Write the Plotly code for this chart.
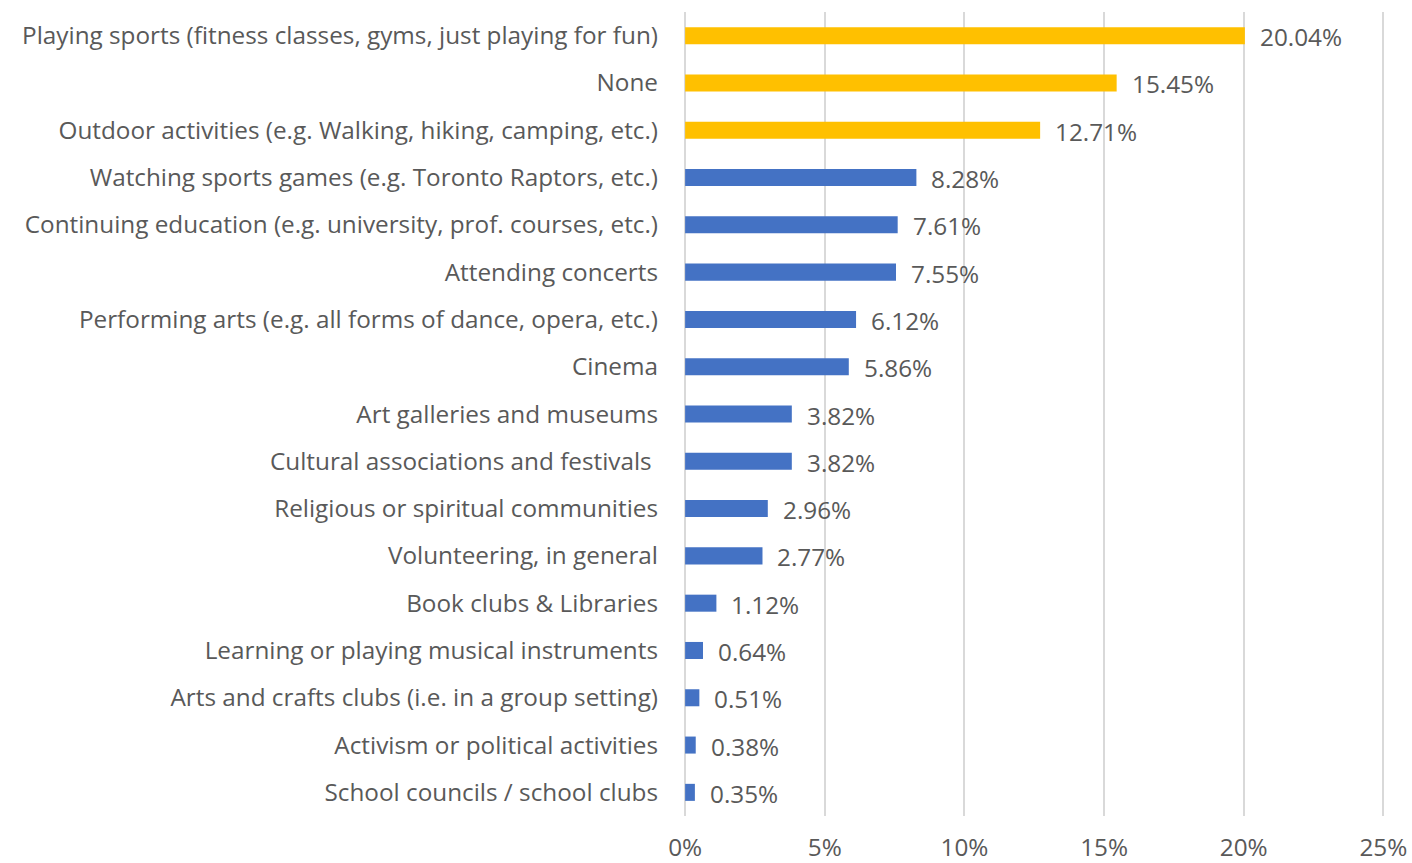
import plotly.graph_objects as go

categories = [
    "Playing sports (fitness classes, gyms, just playing for fun)",
    "None",
    "Outdoor activities (e.g. Walking, hiking, camping, etc.)",
    "Watching sports games (e.g. Toronto Raptors, etc.)",
    "Continuing education (e.g. university, prof. courses, etc.)",
    "Attending concerts",
    "Performing arts (e.g. all forms of dance, opera, etc.)",
    "Cinema",
    "Art galleries and museums",
    "Cultural associations and festivals ",
    "Religious or spiritual communities",
    "Volunteering, in general",
    "Book clubs & Libraries",
    "Learning or playing musical instruments",
    "Arts and crafts clubs (i.e. in a group setting)",
    "Activism or political activities",
    "School councils / school clubs",
]
values = [20.04, 15.45, 12.71, 8.28, 7.61, 7.55, 6.12, 5.86, 3.82, 3.82,
          2.96, 2.77, 1.12, 0.64, 0.51, 0.38, 0.35]
highlight_count = 3

tick_vals = [0, 5, 10, 15, 20, 25]
tick_text = ["0%", "5%", "10%", "15%", "20%", "25%"]

GOLD = "#FFC000"
BLUE = "#4472C4"
TEXT = "#595959"
FONT = "Open Sans, sans-serif"
SIZE = 24.3

colors = [GOLD if i < highlight_count else BLUE for i in range(len(values))]

fig = go.Figure()
fig.add_trace(go.Bar(
    x=values,
    y=categories,
    orientation="h",
    marker=dict(color=colors, line=dict(width=0)),
    width=0.36,
    hoverinfo="skip",
))

for cat, v in zip(categories, values):
    fig.add_annotation(
        x=v, y=cat, text=f"{v:.2f}%", showarrow=False,
        xanchor="left", xshift=13, yshift=-1,
        font=dict(family=FONT, size=SIZE, color=TEXT),
    )

# small padding on both ends keeps the 0% and 25% gridlines visible
fig.update_layout(
    width=1412, height=863,
    margin=dict(l=684, r=23, t=12, b=47),
    paper_bgcolor="white", plot_bgcolor="white",
    showlegend=False,
    font=dict(family=FONT, size=SIZE, color=TEXT),
    xaxis=dict(
        range=[-0.04, 25.2], tickvals=tick_vals, ticktext=tick_text,
        showgrid=True, gridcolor="#D9D9D9", gridwidth=2,
        zeroline=False, showline=False,
        ticklabelstandoff=15, automargin=False,
        tickfont=dict(family=FONT, size=SIZE, color=TEXT),
    ),
    yaxis=dict(
        autorange="reversed", showgrid=False, zeroline=False, showline=False,
        ticklabelstandoff=25, automargin=False,
        tickfont=dict(family=FONT, size=SIZE, color=TEXT),
    ),
)

fig.write_html("out.html")
